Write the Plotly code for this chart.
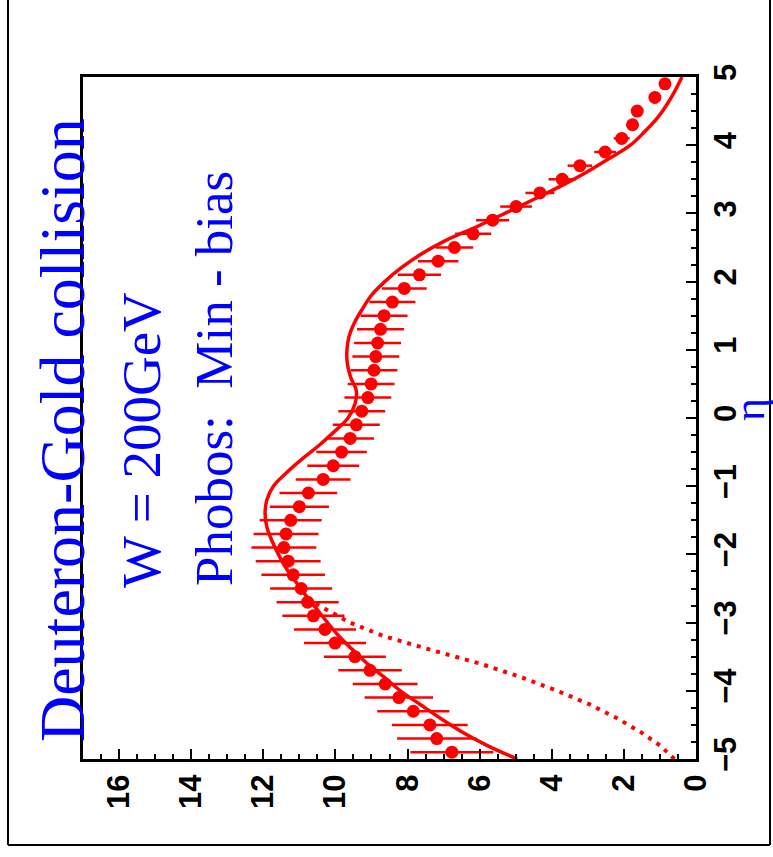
import plotly.graph_objects as go

# PHOBOS d+Au minimum-bias pseudorapidity distribution
eta_data = [round(-4.9 + 0.2 * i, 1) for i in range(50)]
dndeta_data = [6.77, 7.19, 7.38, 7.84, 8.24, 8.62, 9.04, 9.46, 10.01, 10.29,
               10.61, 10.77, 10.95, 11.17, 11.31, 11.43, 11.37, 11.24, 11.00, 10.75,
               10.34, 10.06, 9.83, 9.59, 9.42, 9.27, 9.10, 9.01, 8.93, 8.88,
               8.83, 8.75, 8.65, 8.42, 8.09, 7.67, 7.15, 6.70, 6.18, 5.64,
               4.99, 4.33, 3.71, 3.22, 2.52, 2.06, 1.76, 1.63, 1.14, 0.86]
dndeta_err = [1.15, 1.1, 1.05, 1.0, 0.95, 0.9, 0.88, 0.86, 0.86, 0.86,
              0.86, 0.86, 0.86, 0.88, 0.9, 0.9, 0.9, 0.86, 0.82, 0.8,
              0.76, 0.72, 0.7, 0.66, 0.65, 0.65, 0.65, 0.65, 0.65, 0.65,
              0.65, 0.65, 0.65, 0.64, 0.62, 0.6, 0.56, 0.52, 0.5, 0.46,
              0.44, 0.4, 0.38, 0.34, 0.3, 0.22, 0.16, 0.14, 0.1, 0.1]

# model curve (full)
eta_model = [round(-5.0 + 0.2 * i, 1) for i in range(51)]
dndeta_model = [4.96, 5.8, 6.5, 7.1, 7.65, 8.2, 8.65, 9.12, 9.52, 9.9,
                10.22, 10.52, 10.82, 11.1, 11.37, 11.58, 11.76, 11.9, 11.95, 11.9,
                11.72, 11.35, 10.92, 10.45, 10.03, 9.65, 9.46, 9.42, 9.58, 9.67,
                9.68, 9.62, 9.47, 9.25, 9.0, 8.63, 8.18, 7.63, 6.95, 6.1,
                5.3, 4.52, 3.75, 3.05, 2.42, 1.82, 1.42, 1.07, 0.8, 0.58, 0.39]

# model contribution shown dotted on the gold side
eta_dotted = [-5.0, -4.8, -4.6, -4.4, -4.2, -4.0, -3.8, -3.6, -3.4, -3.2, -3.0, -2.8, -2.7]
dndeta_dotted = [0.6, 1.0, 1.55, 2.2, 2.95, 3.85, 4.85, 6.0, 7.35, 8.65, 9.6, 10.25, 10.62]

x_ticks = list(range(0, 17, 2))
eta_ticks = list(range(-5, 6))

W, H = 773, 857
L, R, T, B = 83, 696, 77, 759

def px(x):
    return (x - L) / (R - L)

def py(y):
    return (B - y) / (B - T)

RED = "#ff0000"
BLUE = "#0000ff"

fig = go.Figure()
fig.add_trace(go.Scatter(
    x=dndeta_dotted, y=eta_dotted, mode="lines",
    line=dict(color=RED, width=4, dash="4px,6px"), hoverinfo="skip"))
fig.add_trace(go.Scatter(
    x=dndeta_model, y=eta_model, mode="lines",
    line=dict(color=RED, width=3.5, shape="spline"), hoverinfo="skip"))
fig.add_trace(go.Scatter(
    x=dndeta_data, y=eta_data, mode="markers",
    marker=dict(color=RED, size=13),
    error_x=dict(type="data", array=dndeta_err, color=RED, thickness=2.5, width=0)))

axis_font = dict(family="Liberation Sans", size=31, color="black", weight="bold")

fig.update_xaxes(
    range=[17, 0], tickvals=x_ticks, tickangle=-90, tickfont=axis_font,
    ticks="inside", ticklen=10, tickwidth=2, tickcolor="black",
    minor=dict(dtick=0.5, ticks="inside", ticklen=5, tickwidth=2, tickcolor="black"),
    showline=True, linewidth=3, linecolor="black", mirror=True,
    showgrid=False, zeroline=False)
fig.update_yaxes(
    range=[-5, 5], tickvals=eta_ticks, side="right", tickangle=-90, tickfont=axis_font,
    ticks="inside", ticklen=10, tickwidth=2, tickcolor="black",
    minor=dict(dtick=0.25, ticks="inside", ticklen=5, tickwidth=2, tickcolor="black"),
    showline=True, linewidth=3, linecolor="black", mirror=True,
    showgrid=False, zeroline=False)

serif = "Liberation Serif"
annots = [
    dict(text="Deuteron-Gold collision", x=px(62), y=py(430), size=64),
    dict(text="W = 200GeV", x=px(141), y=py(440), size=55),
    dict(text="Phobos:&nbsp;&nbsp;Min - bias", x=px(214), y=py(379), size=53),
    dict(text="η", x=px(749), y=py(410), size=44),
]
for a in annots:
    fig.add_annotation(text=a["text"], x=a["x"], y=a["y"], xref="paper", yref="paper",
                       showarrow=False, textangle=-90, xanchor="center", yanchor="middle",
                       font=dict(family=serif, size=a["size"], color=BLUE))

# outer frame
frame = dict(type="line", xref="paper", yref="paper", line=dict(color="black", width=2))
fig.add_shape(x0=px(8), x1=px(8), y0=py(0), y1=py(845), **frame)
fig.add_shape(x0=px(770), x1=px(770), y0=py(0), y1=py(845), **frame)
fig.add_shape(x0=px(8), x1=px(770), y0=py(845), y1=py(845), **frame)

fig.update_layout(
    width=W, height=H, showlegend=False,
    margin=dict(l=L, r=W - R, t=T, b=H - B),
    paper_bgcolor="white", plot_bgcolor="white")

fig.write_html("out.html")
